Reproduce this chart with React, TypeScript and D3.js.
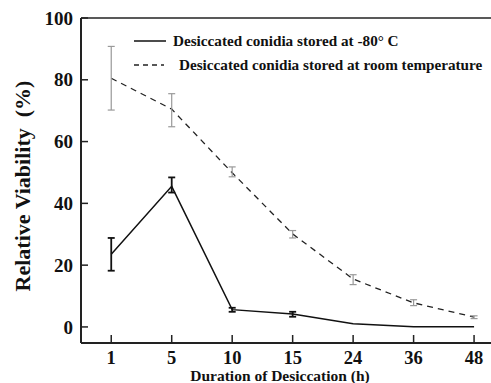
import React, { useEffect, useRef } from "react";
import * as d3 from "d3";

const categories = ["1", "5", "10", "15", "24", "36", "48"];
const frozenMean = [23.5, 45.5, 5.6, 4.2, 1.0, 0.1, 0.1];
const frozenLow = [18.2, 43.5, 4.9, 3.3, null, null, null];
const frozenHigh = [28.8, 48.4, 6.2, 4.9, null, null, null];
const roomMean = [80.5, 70.5, 49.9, 30.1, 15.5, 7.8, 3.2];
const roomLow = [70.2, 64.8, 48.6, 28.8, 13.7, 6.9, 2.7];
const roomHigh = [90.8, 75.5, 51.8, 31.2, 16.9, 8.8, 3.6];
const yTicks = [0, 20, 40, 60, 80, 100];

const App: React.FC = () => {
  const ref = useRef<SVGGElement | null>(null);
  const width = 491;
  const height = 383;

  useEffect(() => {
    if (!ref.current) return;
    const g = d3.select(ref.current);
    g.selectAll("*").remove();

    const left = 81;
    const top = 18;
    const bottom = 343;

    const x = d3.scaleLinear().domain([-0.5, 6.28]).range([left, width]);
    const y = d3.scaleLinear().domain([-5.2, 100]).range([bottom, top]);

    // frame: top, left, bottom
    g.append("line").attr("x1", left).attr("x2", width).attr("y1", top).attr("y2", top)
      .attr("stroke", "#222").attr("stroke-width", 1.6);
    g.append("line").attr("x1", left).attr("x2", left).attr("y1", top).attr("y2", bottom)
      .attr("stroke", "#222").attr("stroke-width", 2);
    g.append("line").attr("x1", left).attr("x2", width).attr("y1", bottom).attr("y2", bottom)
      .attr("stroke", "#222").attr("stroke-width", 2);

    // y ticks
    yTicks.forEach((t) => {
      g.append("line").attr("x1", left).attr("x2", left + 7).attr("y1", y(t)).attr("y2", y(t))
        .attr("stroke", "#222").attr("stroke-width", 1.5);
      g.append("text").attr("x", left - 8).attr("y", y(t)).attr("dy", "0.35em")
        .attr("text-anchor", "end").attr("class", "lbl")
        .attr("font-size", 19).text(t);
    });

    // x ticks
    categories.forEach((c, i) => {
      g.append("line").attr("x1", x(i)).attr("x2", x(i)).attr("y1", bottom).attr("y2", bottom - 8)
        .attr("stroke", "#222").attr("stroke-width", 1.5);
      g.append("text").attr("x", x(i)).attr("y", bottom + 21)
        .attr("text-anchor", "middle").attr("class", "lbl")
        .attr("font-size", 18.5).text(c);
    });

    const line = d3.line<number>().x((_, i) => x(i)).y((d) => y(d));

    g.append("path").datum(roomMean).attr("d", line).attr("fill", "none")
      .attr("stroke", "#222").attr("stroke-width", 1.3).attr("stroke-dasharray", "6,5");
    g.append("path").datum(frozenMean).attr("d", line).attr("fill", "none")
      .attr("stroke", "#111").attr("stroke-width", 1.5);

    const errBars = (lo: (number | null)[], hi: (number | null)[], color: string, sw: number) => {
      lo.forEach((l, i) => {
        const h = hi[i];
        if (l === null || h === null) return;
        const cx = x(i);
        g.append("line").attr("x1", cx).attr("x2", cx).attr("y1", y(l)).attr("y2", y(h))
          .attr("stroke", color).attr("stroke-width", sw);
        [l, h].forEach((v) => {
          g.append("line").attr("x1", cx - 3.5).attr("x2", cx + 3.5).attr("y1", y(v)).attr("y2", y(v))
            .attr("stroke", color).attr("stroke-width", sw);
        });
      });
    };
    errBars(roomLow, roomHigh, "#999", 1.2);
    errBars(frozenLow, frozenHigh, "#111", 1.8);

    // legend
    g.append("line").attr("x1", 134).attr("x2", 166).attr("y1", 41).attr("y2", 41)
      .attr("stroke", "#111").attr("stroke-width", 1.5);
    g.append("text").attr("x", 173).attr("y", 41).attr("dy", "0.35em")
      .attr("class", "lbl").attr("font-size", 15.2)
      .text("Desiccated conidia stored at -80° C");
    g.append("line").attr("x1", 134).attr("x2", 164).attr("y1", 65).attr("y2", 65)
      .attr("stroke", "#222").attr("stroke-width", 1.3).attr("stroke-dasharray", "5,4");
    g.append("text").attr("x", 179).attr("y", 65).attr("dy", "0.35em")
      .attr("class", "lbl").attr("font-size", 15.2)
      .text("Desiccated conidia stored at room temperature");

    // axis titles
    g.append("text").attr("transform", `translate(22,186) rotate(-90)`)
      .attr("dy", "0.35em").attr("text-anchor", "middle").attr("class", "lbl")
      .attr("font-size", 22)
      .text("Relative Viability  (%)");
    g.append("text").attr("x", 280).attr("y", 380.5).attr("text-anchor", "middle")
      .attr("class", "lbl").attr("font-size", 15.5)
      .text("Duration of Desiccation (h)");
  }, []);

  return (
    <svg
      width={width}
      height={height}
      style={{ position: "absolute", left: 0, top: 0, background: "#fff" }}
    >
      <style>{`.lbl { font-family: "Liberation Serif", "Times New Roman", serif; font-weight: bold; fill: #111; white-space: pre; }`}</style>
      <g ref={ref} />
    </svg>
  );
};

export default App;
